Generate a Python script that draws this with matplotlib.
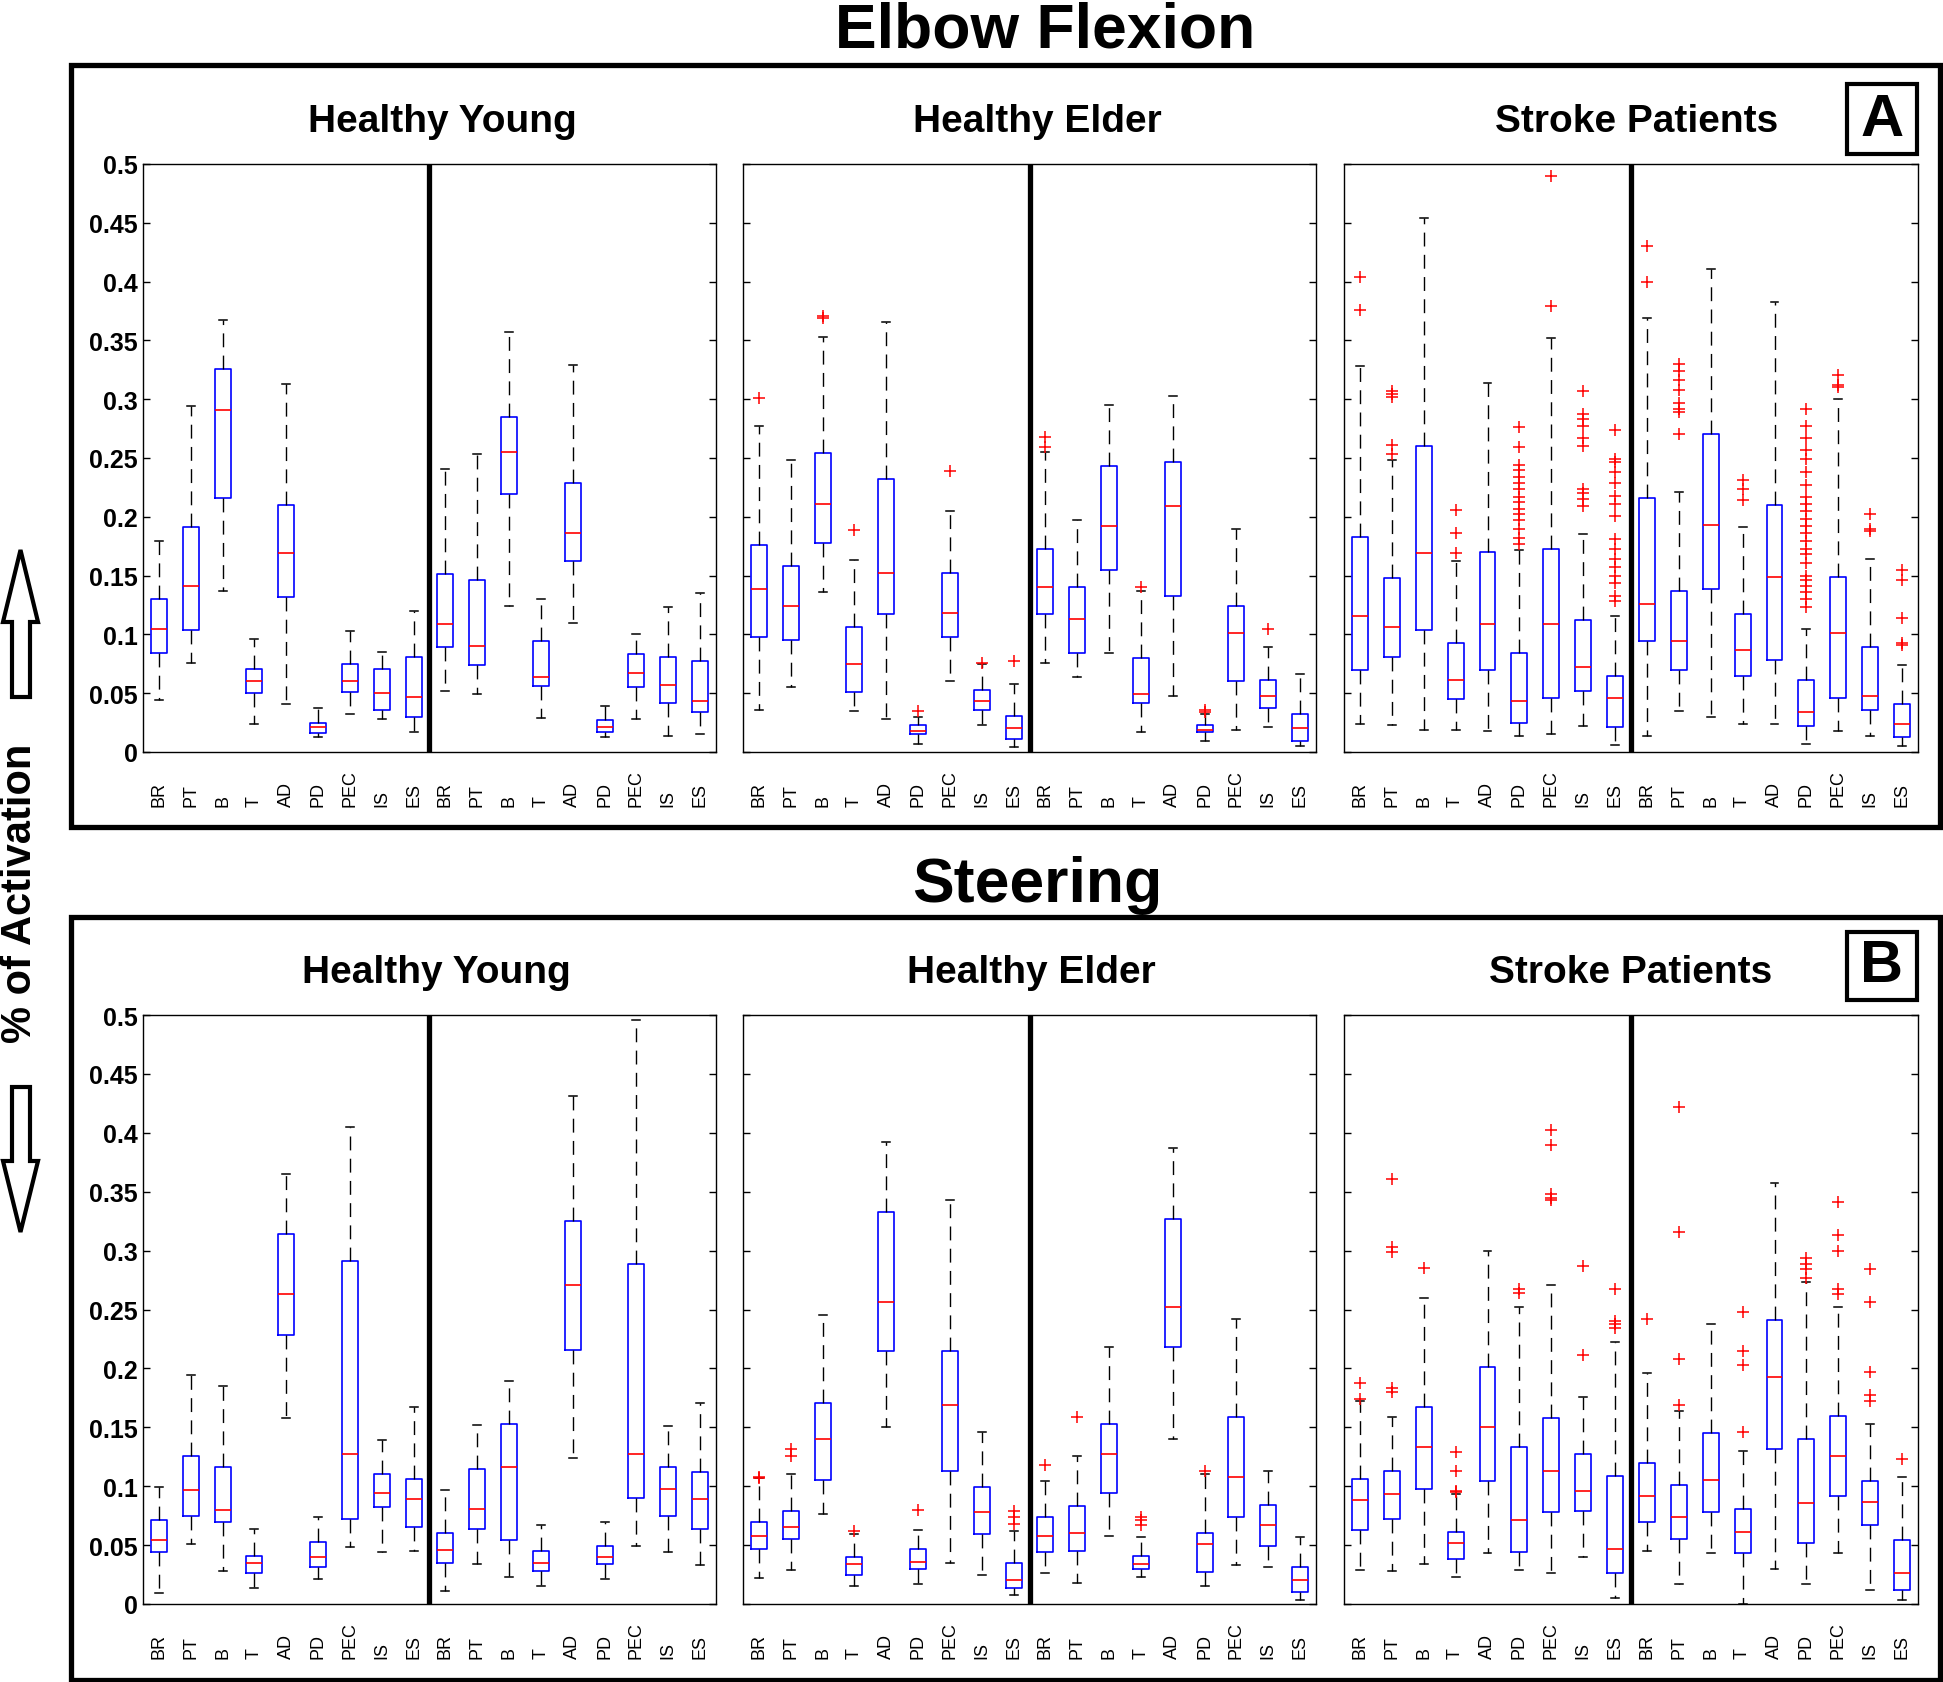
import matplotlib.pyplot as plt
from matplotlib.patches import Rectangle, Polygon

plt.rcParams['font.family'] = 'Liberation Sans'

W, H = 1943, 1683

muscles = ['BR', 'PT', 'B', 'T', 'AD', 'PD', 'PEC', 'IS', 'ES']
groups = ['Healthy Young', 'Healthy Elder', 'Stroke Patients']
y_ticks = [0, 0.05, 0.1, 0.15, 0.2, 0.25, 0.3, 0.35, 0.4, 0.45, 0.5]
y_tick_labels = ['0', '0.05', '0.1', '0.15', '0.2', '0.25', '0.3', '0.35', '0.4', '0.45', '0.5']

# each row: (lower whisker, q1, median, q3, upper whisker), 9 muscles x 2 halves
ef_young = [
    (0.044, 0.084, 0.105, 0.130, 0.179), (0.076, 0.104, 0.141, 0.191, 0.294),
    (0.137, 0.216, 0.291, 0.326, 0.367), (0.024, 0.050, 0.060, 0.071, 0.096),
    (0.041, 0.132, 0.169, 0.210, 0.313), (0.013, 0.016, 0.021, 0.025, 0.037),
    (0.032, 0.051, 0.060, 0.075, 0.103), (0.028, 0.036, 0.050, 0.071, 0.085),
    (0.017, 0.030, 0.047, 0.081, 0.120),
    (0.052, 0.089, 0.109, 0.151, 0.241), (0.049, 0.074, 0.090, 0.146, 0.253),
    (0.124, 0.219, 0.255, 0.285, 0.357), (0.029, 0.056, 0.064, 0.094, 0.130),
    (0.110, 0.162, 0.186, 0.229, 0.329), (0.013, 0.017, 0.021, 0.027, 0.039),
    (0.028, 0.055, 0.067, 0.083, 0.100), (0.014, 0.042, 0.057, 0.081, 0.123),
    (0.015, 0.034, 0.043, 0.077, 0.135),
]
ef_young_out = [[] for _ in range(18)]

ef_elder = [
    (0.036, 0.098, 0.139, 0.176, 0.277), (0.055, 0.095, 0.124, 0.158, 0.248),
    (0.136, 0.178, 0.211, 0.254, 0.353), (0.035, 0.051, 0.075, 0.106, 0.163),
    (0.028, 0.117, 0.152, 0.232, 0.366), (0.007, 0.015, 0.018, 0.023, 0.030),
    (0.060, 0.098, 0.118, 0.152, 0.205), (0.023, 0.036, 0.043, 0.053, 0.075),
    (0.004, 0.011, 0.020, 0.031, 0.058),
    (0.076, 0.117, 0.140, 0.173, 0.255), (0.064, 0.084, 0.113, 0.140, 0.197),
    (0.084, 0.155, 0.192, 0.243, 0.295), (0.017, 0.042, 0.049, 0.080, 0.137),
    (0.048, 0.133, 0.209, 0.247, 0.303), (0.009, 0.017, 0.019, 0.023, 0.032),
    (0.019, 0.060, 0.101, 0.124, 0.190), (0.021, 0.037, 0.048, 0.061, 0.089),
    (0.005, 0.009, 0.020, 0.032, 0.066),
]
ef_elder_out = [
    [0.301], [], [0.369, 0.371], [0.189], [], [0.035], [0.239], [0.076], [0.077],
    [0.259, 0.268], [], [], [0.140], [], [0.034, 0.036], [], [0.105], [],
]

ef_stroke = [
    (0.024, 0.070, 0.116, 0.183, 0.328), (0.023, 0.081, 0.106, 0.148, 0.248),
    (0.019, 0.104, 0.169, 0.260, 0.454), (0.019, 0.045, 0.061, 0.093, 0.162),
    (0.018, 0.070, 0.109, 0.170, 0.314), (0.014, 0.025, 0.043, 0.084, 0.172),
    (0.015, 0.046, 0.109, 0.173, 0.352), (0.022, 0.052, 0.072, 0.112, 0.185),
    (0.006, 0.021, 0.046, 0.065, 0.116),
    (0.014, 0.094, 0.126, 0.216, 0.369), (0.035, 0.070, 0.094, 0.137, 0.221),
    (0.030, 0.139, 0.193, 0.270, 0.411), (0.024, 0.065, 0.087, 0.117, 0.191),
    (0.024, 0.078, 0.149, 0.210, 0.383), (0.007, 0.022, 0.034, 0.061, 0.105),
    (0.018, 0.046, 0.101, 0.149, 0.300), (0.014, 0.036, 0.048, 0.089, 0.164),
    (0.005, 0.013, 0.024, 0.041, 0.074),
]
ef_stroke_out = [
    [0.376, 0.404],
    [0.253, 0.261, 0.302, 0.304, 0.307],
    [],
    [0.169, 0.186, 0.206],
    [],
    [0.177, 0.182, 0.190, 0.197, 0.202, 0.207, 0.213, 0.217, 0.224, 0.229,
     0.234, 0.240, 0.244, 0.259, 0.276],
    [0.379, 0.490],
    [0.209, 0.215, 0.220, 0.224, 0.260, 0.267, 0.277, 0.283, 0.287, 0.307],
    [0.128, 0.133, 0.144, 0.150, 0.157, 0.164, 0.173, 0.181, 0.201, 0.211,
     0.218, 0.229, 0.238, 0.247, 0.249, 0.274],
    [0.400, 0.430],
    [0.270, 0.289, 0.292, 0.297, 0.308, 0.316, 0.324, 0.330],
    [],
    [0.214, 0.224, 0.231],
    [],
    [0.123, 0.130, 0.136, 0.141, 0.146, 0.150, 0.161, 0.168, 0.173, 0.179,
     0.186, 0.192, 0.198, 0.205, 0.211, 0.217, 0.227, 0.238, 0.249, 0.257,
     0.267, 0.277, 0.292],
    [0.310, 0.312, 0.321],
    [0.188, 0.190, 0.202],
    [0.091, 0.093, 0.114, 0.146, 0.155],
]

st_young = [
    (0.009, 0.044, 0.054, 0.071, 0.099), (0.051, 0.075, 0.097, 0.126, 0.194),
    (0.028, 0.070, 0.080, 0.116, 0.185), (0.014, 0.026, 0.035, 0.041, 0.064),
    (0.158, 0.228, 0.263, 0.314, 0.365), (0.021, 0.031, 0.040, 0.053, 0.074),
    (0.048, 0.072, 0.127, 0.291, 0.405), (0.044, 0.082, 0.094, 0.110, 0.139),
    (0.045, 0.065, 0.089, 0.106, 0.167),
    (0.011, 0.035, 0.046, 0.060, 0.097), (0.034, 0.064, 0.081, 0.115, 0.152),
    (0.023, 0.054, 0.116, 0.153, 0.189), (0.015, 0.028, 0.035, 0.045, 0.067),
    (0.124, 0.216, 0.271, 0.325, 0.431), (0.021, 0.034, 0.040, 0.049, 0.070),
    (0.049, 0.090, 0.127, 0.289, 0.496), (0.044, 0.075, 0.098, 0.116, 0.151),
    (0.033, 0.064, 0.089, 0.112, 0.171),
]
st_young_out = [[] for _ in range(18)]

st_elder = [
    (0.022, 0.047, 0.058, 0.070, 0.107), (0.029, 0.055, 0.065, 0.079, 0.110),
    (0.076, 0.105, 0.140, 0.171, 0.245), (0.015, 0.025, 0.034, 0.040, 0.059),
    (0.150, 0.215, 0.256, 0.333, 0.392), (0.017, 0.030, 0.036, 0.047, 0.063),
    (0.035, 0.113, 0.169, 0.215, 0.343), (0.025, 0.059, 0.078, 0.099, 0.146),
    (0.008, 0.014, 0.020, 0.035, 0.062),
    (0.026, 0.044, 0.058, 0.074, 0.104), (0.018, 0.045, 0.060, 0.083, 0.126),
    (0.058, 0.094, 0.127, 0.153, 0.218), (0.023, 0.030, 0.034, 0.041, 0.057),
    (0.140, 0.218, 0.252, 0.327, 0.387), (0.015, 0.027, 0.051, 0.060, 0.110),
    (0.033, 0.074, 0.108, 0.159, 0.242), (0.031, 0.049, 0.067, 0.084, 0.113),
    (0.003, 0.010, 0.020, 0.031, 0.057),
]
st_elder_out = [
    [0.107, 0.108], [0.126, 0.132], [], [0.062], [], [0.080], [], [], [0.068, 0.074, 0.079],
    [0.118], [0.159], [], [0.067, 0.071, 0.074], [], [0.113], [], [], [],
]

st_stroke = [
    (0.029, 0.063, 0.088, 0.106, 0.172), (0.028, 0.072, 0.093, 0.113, 0.159),
    (0.034, 0.098, 0.133, 0.167, 0.260), (0.023, 0.038, 0.052, 0.061, 0.093),
    (0.043, 0.104, 0.150, 0.201, 0.300), (0.029, 0.044, 0.071, 0.133, 0.252),
    (0.026, 0.078, 0.113, 0.158, 0.271), (0.040, 0.079, 0.096, 0.127, 0.176),
    (0.005, 0.026, 0.047, 0.109, 0.222),
    (0.045, 0.070, 0.092, 0.120, 0.196), (0.017, 0.055, 0.074, 0.101, 0.164),
    (0.043, 0.078, 0.105, 0.145, 0.238), (0.000, 0.043, 0.061, 0.081, 0.130),
    (0.030, 0.132, 0.193, 0.241, 0.357), (0.017, 0.052, 0.086, 0.140, 0.273),
    (0.043, 0.092, 0.126, 0.160, 0.252), (0.012, 0.067, 0.087, 0.104, 0.153),
    (0.003, 0.012, 0.026, 0.054, 0.108),
]
st_stroke_out = [
    [0.174, 0.188],
    [0.180, 0.183, 0.299, 0.303, 0.361],
    [0.285],
    [0.095, 0.096, 0.113, 0.129],
    [],
    [0.264, 0.267],
    [0.343, 0.345, 0.348, 0.390, 0.402],
    [0.211, 0.287],
    [0.234, 0.238, 0.240, 0.267],
    [0.242],
    [0.169, 0.208, 0.316, 0.422],
    [],
    [0.146, 0.203, 0.215, 0.248],
    [],
    [0.277, 0.284, 0.289, 0.294],
    [0.263, 0.267, 0.300, 0.313, 0.341],
    [0.172, 0.177, 0.197, 0.256, 0.284],
    [0.123],
]


def fx(px):
    return px / W


def fy(py):
    return 1 - py / H


def draw_group(ax, stats, outliers, show_y):
    rows = []
    for s, o in zip(stats, outliers):
        rows.append(dict(whislo=s[0], q1=s[1], med=s[2], q3=s[3], whishi=s[4], fliers=o))
    ax.bxp(rows, positions=range(1, 19), widths=0.5, capwidths=0.25,
           boxprops=dict(color='blue', lw=1.2),
           medianprops=dict(color='red', lw=1.2),
           whiskerprops=dict(color='black', lw=1, linestyle=(0, (10, 6))),
           capprops=dict(color='black', lw=1.1),
           flierprops=dict(marker='+', markeredgecolor='red', markersize=8.5,
                           mew=1.1, linestyle='none'))
    ax.axvline(9.5, color='black', lw=3.8)
    ax.set_xlim(0.5, 18.5)
    ax.set_ylim(0, 0.5)
    ax.set_xticks(range(1, 19), labels=muscles * 2)
    ax.tick_params(axis='x', length=0, pad=39, labelsize=13)
    for lbl in ax.get_xticklabels():
        lbl.set_rotation(90)
        lbl.set_va('bottom')
    ax.set_yticks(y_ticks)
    ax.tick_params(axis='y', direction='in', left=True, right=True, length=5, width=1)
    if show_y:
        ax.set_yticklabels(y_tick_labels, fontsize=18, fontweight='bold')
        ax.tick_params(axis='y', pad=4)
    else:
        ax.set_yticklabels([])
    for sp in ax.spines.values():
        sp.set_linewidth(1.0)


fig = plt.figure(figsize=(W / 100, H / 100), dpi=100)

col_x = [(143, 716), (743, 1316), (1344, 1918)]
row_y = [(165, 753), (1016, 1605)]
panel_data = [
    [(ef_young, ef_young_out), (ef_elder, ef_elder_out), (ef_stroke, ef_stroke_out)],
    [(st_young, st_young_out), (st_elder, st_elder_out), (st_stroke, st_stroke_out)],
]

for r, (y0, y1) in enumerate(row_y):
    for c, (x0, x1) in enumerate(col_x):
        ax = fig.add_axes([fx(x0), fy(y1), fx(x1) - fx(x0), fy(y0) - fy(y1)])
        stats, outs = panel_data[r][c]
        draw_group(ax, stats, outs, c == 0)

# panel frames, titles and letters
frames = [(66, 828), (918, 1681)]
titles = [('Elbow Flexion', 1045, 47), ('Steering', 1037, 902)]
letters = [('A', 85, 155), ('B', 933, 1001)]
sub_pos = [([442, 1037, 1637], 132), ([436, 1031, 1631], 983)]

for (t, b), (title, tx, ty), (let, ly0, ly1), (sx, sy) in zip(frames, titles, letters, sub_pos):
    fig.add_artist(Rectangle((fx(71), fy(b)), fx(1940) - fx(71), fy(t) - fy(b),
                             transform=fig.transFigure, fill=False, lw=3.8, ec='black'))
    fig.text(fx(tx), fy(ty), title, ha='center', va='baseline', fontsize=45, fontweight='bold')
    fig.add_artist(Rectangle((fx(1847), fy(ly1)), fx(1917) - fx(1847), fy(ly0) - fy(ly1),
                             transform=fig.transFigure, fill=False, lw=3.0, ec='black'))
    fig.text(fx(1882), fy((ly0 + ly1) / 2), let, ha='center', va='center',
             fontsize=43, fontweight='bold')
    for name, x in zip(groups, sx):
        fig.text(fx(x), fy(sy), name, ha='center', va='baseline', fontsize=28, fontweight='bold')

# y label with hollow arrows
fig.text(fx(20), fy(893), '% of Activation', rotation=90, ha='center', va='center',
         fontsize=30, fontweight='bold')
up = [(20.5, 551), (38, 623), (30, 623), (30, 698), (12, 698), (12, 623), (3, 623)]
down = [(12, 1088), (30, 1088), (30, 1162), (38, 1162), (20.5, 1233), (3, 1162), (12, 1162)]
for pts in (up, down):
    fig.add_artist(Polygon([(fx(x), fy(y)) for x, y in pts], closed=True,
                           transform=fig.transFigure, fc='white', ec='black', lw=3.0))

fig.savefig('out.png', dpi=100)
